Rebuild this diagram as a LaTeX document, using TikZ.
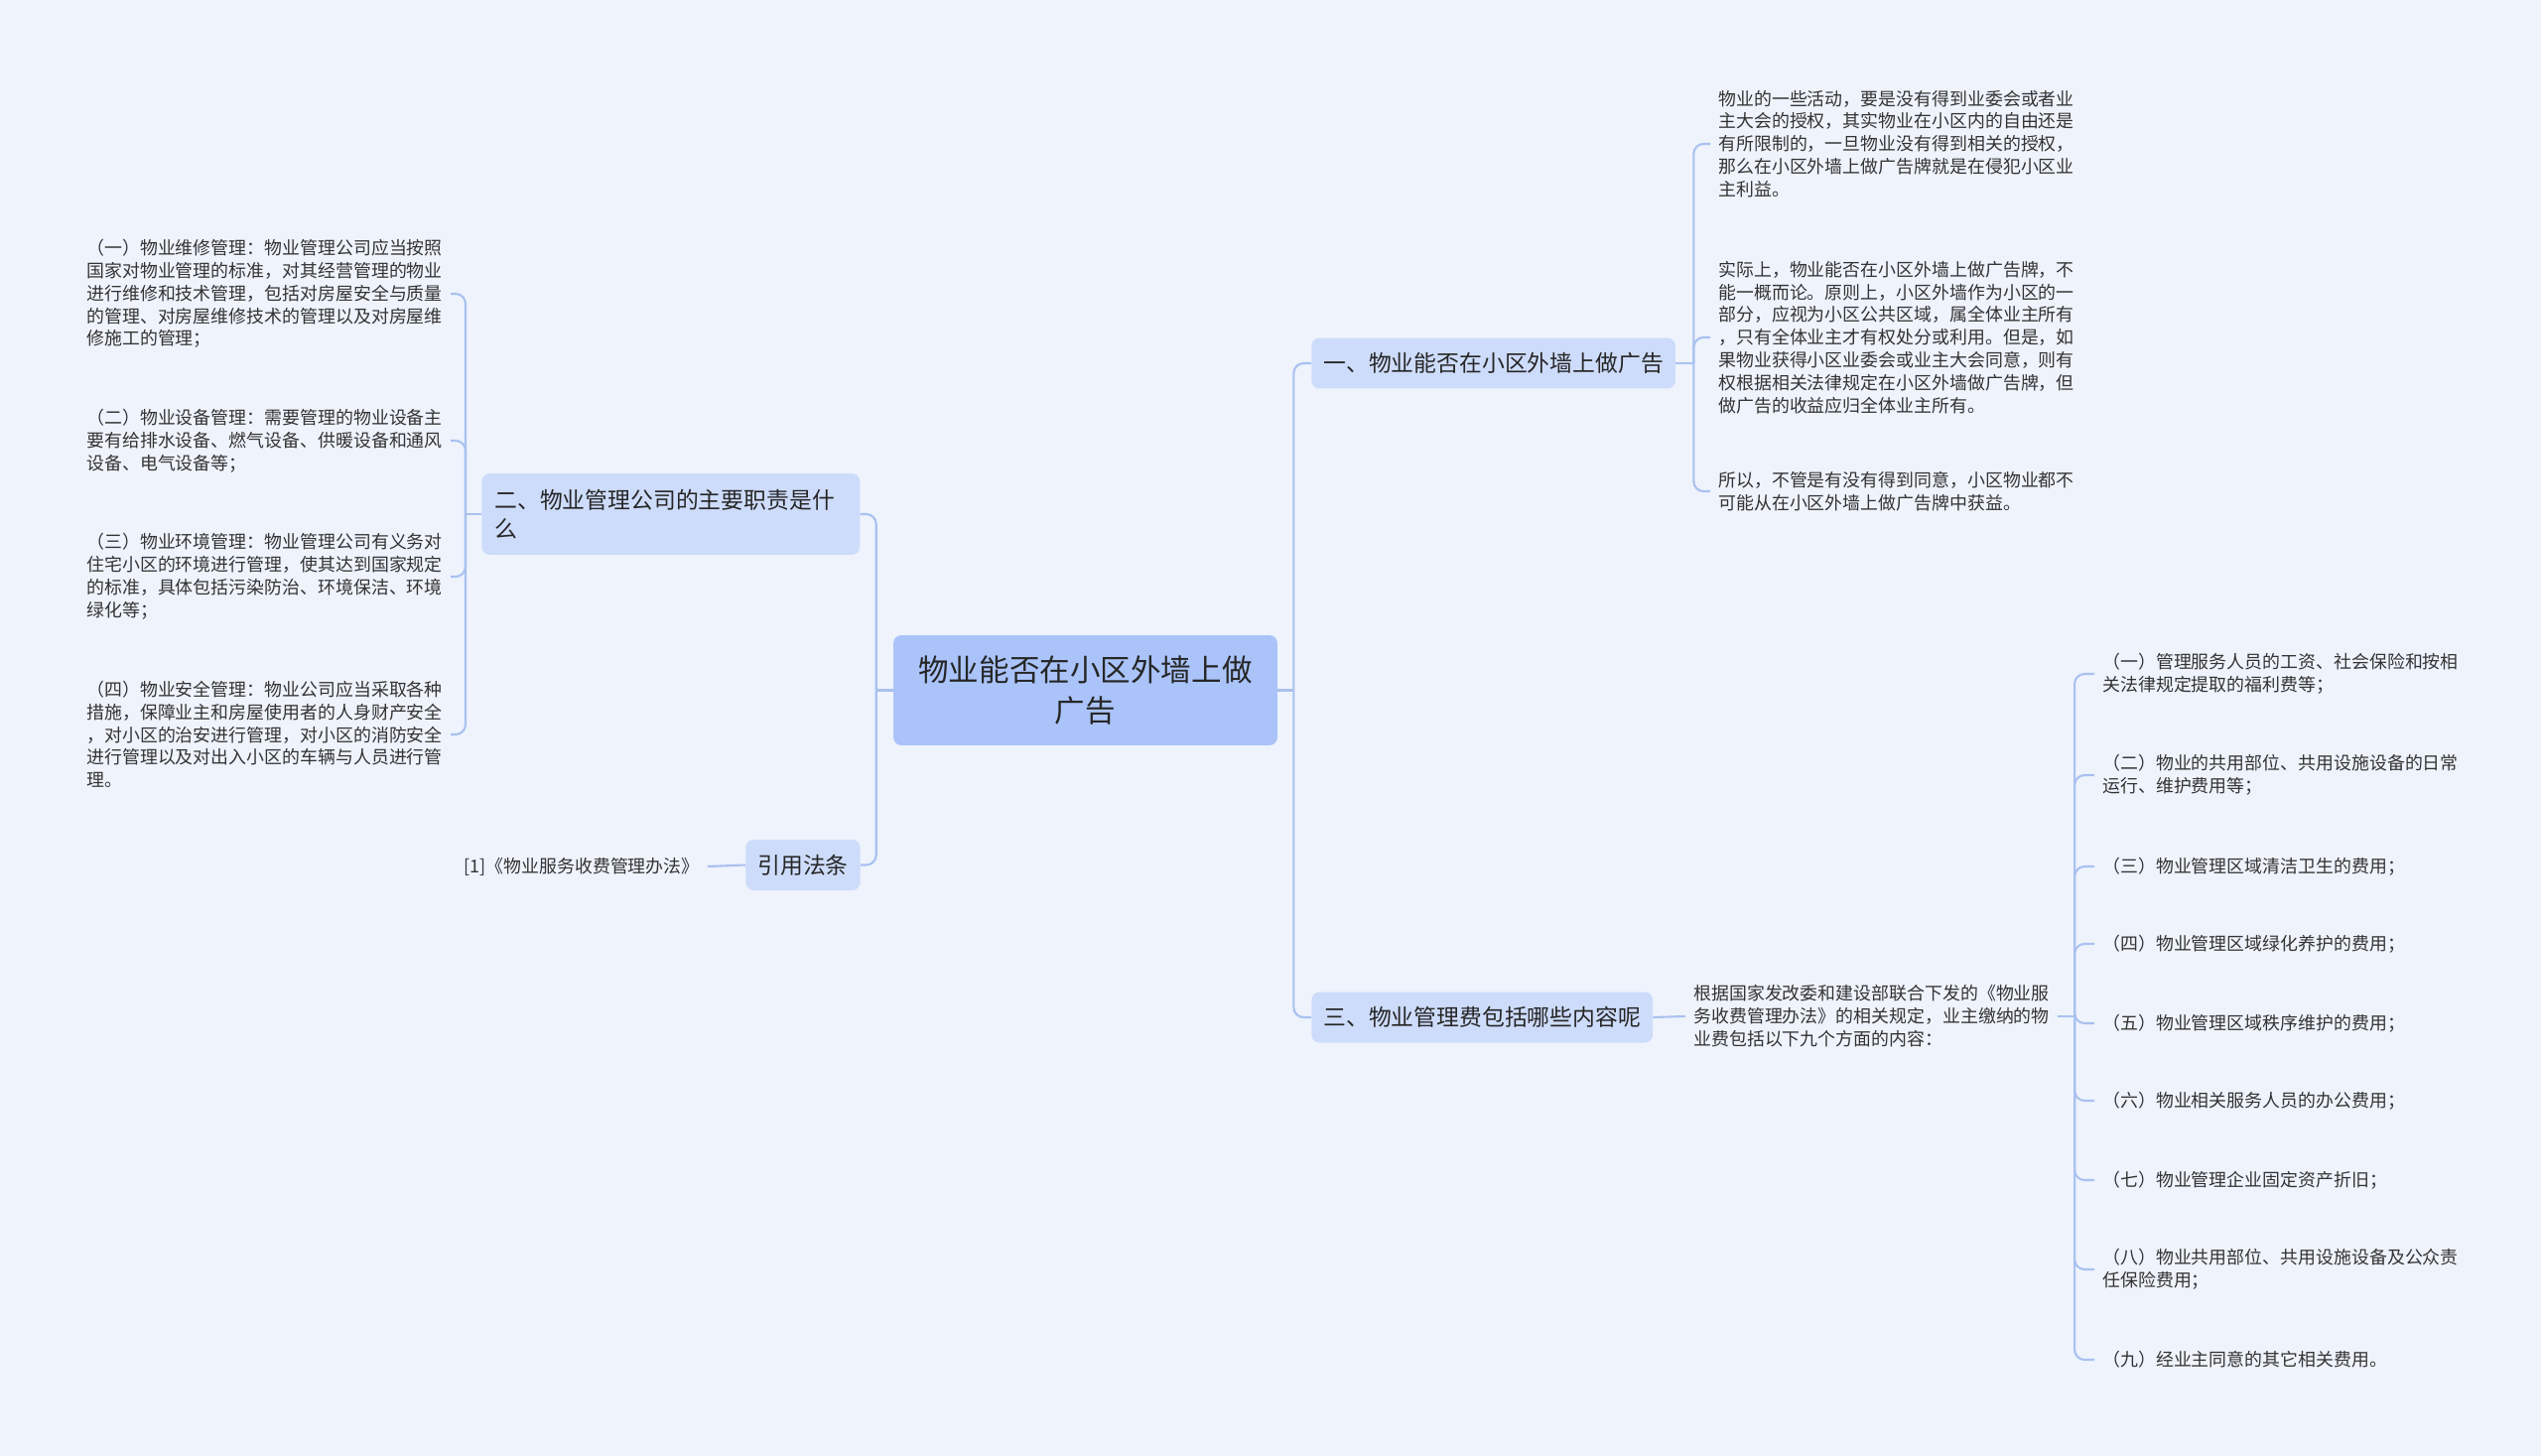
\documentclass[tikz,border=0pt]{standalone}
\usepackage{fontspec}
\setmainfont{Noto Sans CJK SC}
\definecolor{bgcol}{HTML}{EEF3FC}
\definecolor{rootfill}{HTML}{AAC4FA}
\definecolor{secfill}{HTML}{CEDCFB}
\definecolor{linkcol}{HTML}{A9C1F0}
\definecolor{txtcol}{HTML}{333333}
\begin{document}
\begin{tikzpicture}[x=0.02cm,y=-0.02cm,
    link/.style={draw=linkcol,line width=1.2pt},
    bus/.style={link,rounded corners=0.2cm},
    rootbox/.style={fill=rootfill,rounded corners=0.16cm,minimum width=7.74cm,minimum height=2.22cm,align=center,text=black!85,font=\fontsize{17.4}{23.3}\selectfont},
    secbox/.style={fill=secfill,rounded corners=0.16cm,inner xsep=0.24cm,minimum height=1.02cm,anchor=west,text=black!85,font=\fontsize{13}{16.5}\selectfont},
    leaf/.style={inner xsep=0.16cm,inner ysep=0pt,align=left,text=txtcol,font=\fontsize{10.2}{13}\selectfont}]
    \fill[bgcol] (0,0) rectangle (2560,1467);
    \useasboundingbox (0,0) rectangle (2560,1467);
    % root
    \node[rootbox] (root) at (1093.5,695.5) {物业能否在小区外墙上做\\广告};
    % right side
    \node[secbox] (sec1) at (1321,366) {一、物业能否在小区外墙上做广告};
    \node[secbox] (sec3) at (1321,1025) {三、物业管理费包括哪些内容呢};
    \draw[link] (root.east) -- ++(16,0) coordinate (br);
    \draw[bus] (br) |- (sec1.west);
    \draw[bus] (br) |- (sec3.west);
    % panel one
    \node[leaf,anchor=west] (t1) at (1723,145) {物业的一些活动，要是没有得到业委会或者业\\主大会的授权，其实物业在小区内的自由还是\\有所限制的，一旦物业没有得到相关的授权，\\那么在小区外墙上做广告牌就是在侵犯小区业\\主利益。};
    \node[leaf,anchor=west] (t2) at (1723,340) {实际上，物业能否在小区外墙上做广告牌，不\\能一概而论。原则上，小区外墙作为小区的一\\部分，应视为小区公共区域，属全体业主所有\\，只有全体业主才有权处分或利用。但是，如\\果物业获得小区业委会或业主大会同意，则有\\权根据相关法律规定在小区外墙做广告牌，但\\做广告的收益应归全体业主所有。};
    \node[leaf,anchor=west] (t3) at (1723,495) {所以，不管是有没有得到同意，小区物业都不\\可能从在小区外墙上做广告牌中获益。};
    \draw[link] (sec1.east) -- ++(18,0) coordinate (b1);
    \foreach \n in {t1,t2,t3}
      \draw[bus] (b1) |- (\n.west);
    % panel three
    \node[leaf,anchor=west] (fee) at (1698,1024) {根据国家发改委和建设部联合下发的《物业服\\务收费管理办法》的相关规定，业主缴纳的物\\业费包括以下九个方面的内容：};
    \draw[link] (sec3.east) -- (fee.west);
    \node[leaf,anchor=west] (f1) at (2110,679) {（一）管理服务人员的工资、社会保险和按相\\关法律规定提取的福利费等；};
    \node[leaf,anchor=west] (f2) at (2110,781) {（二）物业的共用部位、共用设施设备的日常\\运行、维护费用等；};
    \node[leaf,anchor=west] (f3) at (2110,873) {（三）物业管理区域清洁卫生的费用；};
    \node[leaf,anchor=west] (f4) at (2110,951) {（四）物业管理区域绿化养护的费用；};
    \node[leaf,anchor=west] (f5) at (2110,1031) {（五）物业管理区域秩序维护的费用；};
    \node[leaf,anchor=west] (f6) at (2110,1109) {（六）物业相关服务人员的办公费用；};
    \node[leaf,anchor=west] (f7) at (2110,1189) {（七）物业管理企业固定资产折旧；};
    \node[leaf,anchor=west] (f8) at (2110,1279) {（八）物业共用部位、共用设施设备及公众责\\任保险费用；};
    \node[leaf,anchor=west] (f9) at (2110,1370) {（九）经业主同意的其它相关费用。};
    \draw[link] (fee.east) -- ++(17,0) coordinate (b3);
    \foreach \n in {f1,f2,f3,f4,f5,f6,f7,f8,f9}
      \draw[bus] (b3) |- (\n.west);
    % left side
    \node[secbox,text width=7.1cm,align=left,inner xsep=0.26cm,minimum height=1.64cm] (sec2) at (485,518) {二、物业管理公司的主要职责是什\\么};
    \node[secbox] (ref) at (751,871.5) {引用法条};
    \draw[link] (root.west) -- ++(-17,0) coordinate (bl);
    \draw[bus] (bl) |- (sec2.east);
    \draw[bus] (bl) |- (ref.east);
    % panel two
    \node[leaf,anchor=west] (l1) at (79,296) {（一）物业维修管理：物业管理公司应当按照\\国家对物业管理的标准，对其经营管理的物业\\进行维修和技术管理，包括对房屋安全与质量\\的管理、对房屋维修技术的管理以及对房屋维\\修施工的管理；};
    \node[leaf,anchor=west] (l2) at (79,444) {（二）物业设备管理：需要管理的物业设备主\\要有给排水设备、燃气设备、供暖设备和通风\\设备、电气设备等；};
    \node[leaf,anchor=west] (l3) at (79,581) {（三）物业环境管理：物业管理公司有义务对\\住宅小区的环境进行管理，使其达到国家规定\\的标准，具体包括污染防治、环境保洁、环境\\绿化等；};
    \node[leaf,anchor=west] (l4) at (79,740) {（四）物业安全管理：物业公司应当采取各种\\措施，保障业主和房屋使用者的人身财产安全\\，对小区的治安进行管理，对小区的消防安全\\进行管理以及对出入小区的车辆与人员进行管\\理。};
    \draw[link] (sec2.west) -- ++(-16,0) coordinate (b2);
    \foreach \n in {l1,l2,l3,l4}
      \draw[bus] (b2) |- (\n.east);
    % citation
    \node[leaf,anchor=east] (law) at (713,873) {[1]《物业服务收费管理办法》};
    \draw[link] (ref.west) -- (law.east);
  \end{tikzpicture}
\end{document}
